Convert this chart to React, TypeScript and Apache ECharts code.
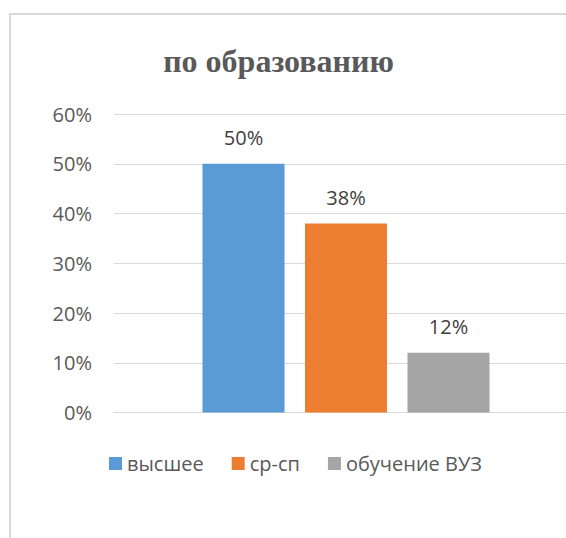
import React, { useEffect, useRef } from "react";
import * as echarts from "echarts";

const title = "по образованию";
const categories = [""];
const seriesNames = ["высшее", "ср-сп", "обучение ВУЗ"];
const seriesValues = [0.5, 0.38, 0.12];
const seriesColors = ["#5b9bd5", "#ed7d31", "#a5a5a5"];
const yMax = 0.6;
const yInterval = 0.1;

export default function App() {
  const ref = useRef<HTMLDivElement>(null);
  useEffect(() => {
    if (!ref.current) return;
    document.documentElement.style.overflow = "hidden";
    document.body.style.margin = "0";
    document.body.style.overflow = "hidden";
    const chart = echarts.init(ref.current, undefined, { renderer: "svg" });
    const font = "Open Sans";
    chart.setOption({
      animation: false,
      backgroundColor: "#ffffff",
      graphic: [
        {
          type: "line",
          shape: { x1: 10, y1: 14, x2: 566, y2: 14 },
          style: { stroke: "#d9d9d9", lineWidth: 2 },
          silent: true,
        },
        {
          type: "line",
          shape: { x1: 10, y1: 13, x2: 10, y2: 538 },
          style: { stroke: "#d9d9d9", lineWidth: 2 },
          silent: true,
        },
        {
          type: "text",
          x: 278.5,
          y: 61,
          style: {
            text: title,
            fill: "#595959",
            font: "bold 32px 'Liberation Serif'",
            textAlign: "center",
            textVerticalAlign: "middle",
          },
        },
      ],
      legend: {
        left: 109,
        top: 453.5,
        padding: 0,
        itemWidth: 13,
        itemHeight: 13,
        itemGap: 28,
        icon: "rect",
        textStyle: { color: "#595959", fontSize: 20, fontFamily: font },
        data: seriesNames,
      },
      grid: {
        left: 114,
        right: -12,
        top: 114,
        bottom: 538 - 412.5,
        containLabel: false,
        outerBoundsMode: "none",
      },
      xAxis: {
        type: "category",
        data: categories,
        axisLine: { show: true, lineStyle: { color: "#d9d9d9", width: 1 } },
        axisTick: { show: false },
        axisLabel: { show: false },
      },
      yAxis: {
        type: "value",
        min: 0,
        max: yMax,
        interval: yInterval,
        axisLine: { show: false },
        axisTick: { show: false },
        splitLine: { lineStyle: { color: "#d9d9d9", width: 1 } },
        axisLabel: {
          margin: 22,
          color: "#595959",
          fontSize: 20,
          fontFamily: font,
          formatter: (v: number) => Math.round(v * 100) + "%",
        },
      },
      series: seriesNames.map((name, i) => ({
        name,
        type: "bar",
        data: [seriesValues[i]],
        barWidth: 82,
        barGap: "25%",
        itemStyle: { color: seriesColors[i] },
        label: {
          show: true,
          position: "top",
          distance: 16,
          color: "#404040",
          fontSize: 20,
          fontFamily: font,
          formatter: (p: any) => Math.round(p.value * 100) + "%",
        },
      })),
    });
    return () => chart.dispose();
  }, []);
  return <div ref={ref} style={{ width: 566, height: 538 }} />;
}
